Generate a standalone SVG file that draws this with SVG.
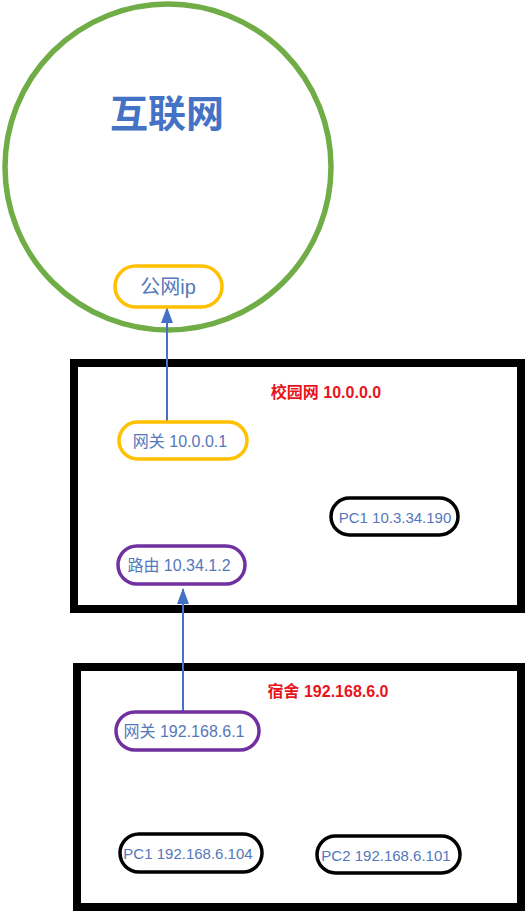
<svg xmlns="http://www.w3.org/2000/svg" width="532" height="913" viewBox="0 0 532 913">
<defs>
<style>
.t{font-family:"Liberation Sans","Noto Sans CJK SC",sans-serif;fill:#5577bb;text-anchor:middle;dominant-baseline:central}
.h{font-family:"Liberation Sans","Noto Sans CJK SC",sans-serif;fill:#e8141c;font-weight:bold;text-anchor:middle;font-size:16px}
.pill{fill:#fff;stroke-width:3.5}
.y{stroke:#ffc000}.p{stroke:#7030a0}.k{stroke:#000}
.box{fill:none;stroke:#000;stroke-width:8}
.c{stroke:#4472c4;stroke-width:2;fill:none}
</style>
<marker id="ah" viewBox="0 0 16 12" refX="15" refY="6" markerWidth="16" markerHeight="12" markerUnits="userSpaceOnUse" orient="auto"><path d="M0,0 L16,6 L0,12 z" fill="#4472c4"/></marker>
</defs>
<rect width="532" height="913" fill="#fff"/>
<g id="internet">
<circle cx="168" cy="167" r="163" fill="none" stroke="#70ad47" stroke-width="5.5"/>
<text class="t" x="167" y="114" font-size="38" font-weight="bold" style="fill:#4472c4">互联网</text>
</g>
<g id="campus">
<rect class="box" x="74" y="363" width="447" height="246"/>
<text class="h" x="326" y="398">校园网 10.0.0.0</text>
</g>
<g id="dorm">
<rect class="box" x="77" y="667" width="444" height="240"/>
<text class="h" x="328" y="697">宿舍 192.168.6.0</text>
</g>
<g id="connectors">
<line class="c" x1="167" y1="422" x2="167" y2="308" marker-end="url(#ah)"/>
<line class="c" x1="183" y1="712" x2="183" y2="589" marker-end="url(#ah)"/>
</g>
<g id="public-ip">
<rect class="pill y" x="115" y="266" width="107" height="41" rx="20.5"/>
<text class="t" x="168" y="287" font-size="20">公网ip</text>
</g>
<g id="gw-campus">
<rect class="pill y" x="119" y="422" width="128" height="37" rx="18.5"/>
<text class="t" x="180" y="441" font-size="16">网关 10.0.0.1</text>
</g>
<g id="pc1-campus">
<rect class="pill k" x="331" y="498" width="127" height="37" rx="18.5"/>
<text class="t" x="395" y="517" font-size="15">PC1 10.3.34.190</text>
</g>
<g id="router">
<rect class="pill p" x="118" y="546" width="127" height="38" rx="19"/>
<text class="t" x="179" y="565" font-size="16">路由 10.34.1.2</text>
</g>
<g id="gw-dorm">
<rect class="pill p" x="116" y="712" width="143" height="38" rx="19"/>
<text class="t" x="184" y="731" font-size="16">网关 192.168.6.1</text>
</g>
<g id="pc1-dorm">
<rect class="pill k" x="120" y="834" width="142" height="38" rx="19"/>
<text class="t" x="188" y="853" font-size="15">PC1 192.168.6.104</text>
</g>
<g id="pc2-dorm">
<rect class="pill k" x="317" y="836" width="143" height="37" rx="18.5"/>
<text class="t" x="386" y="855" font-size="15">PC2 192.168.6.101</text>
</g>
</svg>
